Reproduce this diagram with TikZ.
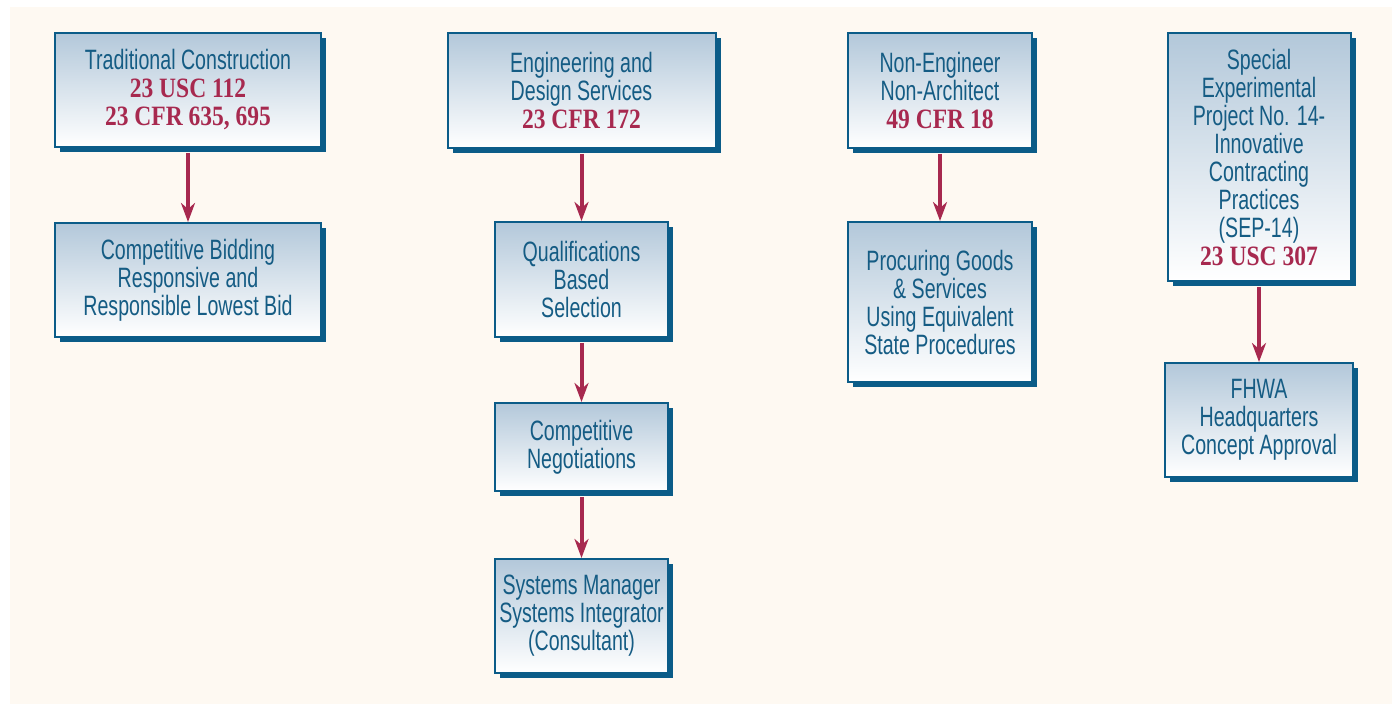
\documentclass[tikz,border=0pt]{standalone}
\usepackage{fontspec}
\setmainfont[FakeStretch=0.70]{Liberation Sans}
\newfontfamily\lawfont[FakeStretch=0.84]{Liberation Serif}
\usepackage{xcolor}
\usetikzlibrary{arrows.meta,shadows}

\definecolor{boxblue}{HTML}{0B5C88}
\definecolor{textblue}{HTML}{155C84}
\definecolor{lawred}{HTML}{A7294F}
\definecolor{boxtop}{HTML}{B3C8DA}
\definecolor{cream}{HTML}{FEF9F2}
\newcommand{\law}[1]{{\lawfont\bfseries\color{lawred}#1}}

\begin{document}
\begin{tikzpicture}[x=0.5pt,y=-0.5pt,
  box/.style={draw=boxblue, line width=1pt, top color=boxtop, bottom color=white,
    drop shadow={shadow xshift=2.6pt, shadow yshift=-2.6pt, fill=boxblue, opacity=1},
    align=center, inner sep=0pt, text=textblue, font=\fontsize{14}{14}\selectfont},
  arr/.style={draw=lawred, line width=2pt, shorten <=2.5pt,
    -{Stealth[length=9.5pt,width=7pt,inset=3pt]}}]
\useasboundingbox (0,0) rectangle (1395,704);
\fill[cream] (10,7) rectangle (1392,704);

% column 1
\node[box, minimum width=133pt, minimum height=57pt] (trad) at (188,90)
  {Traditional Construction\\ \law{23 USC 112}\\ \law{23 CFR 635, 695}};
\node[box, minimum width=133pt, minimum height=57pt] (bid) at (188,280)
  {Competitive Bidding\\ Responsive and\\ Responsible Lowest Bid};

% column 2
\node[box, minimum width=134pt, minimum height=57.5pt] (eng) at (581.5,90.5)
  {Engineering and\\ Design Services\\ \law{23 CFR 172}};
\node[box, minimum width=86.5pt, minimum height=57.5pt] (qbs) at (581.5,279.5)
  {Qualifications\\ Based\\ Selection};
\node[box, minimum width=86.5pt, minimum height=44pt] (neg) at (581.5,447)
  {Competitive\\ Negotiations};
\node[box, minimum width=86.5pt, minimum height=57pt] (sysm) at (581.5,616)
  {Systems Manager\\ Systems Integrator\\ (Consultant)};

% column 3
\node[box, minimum width=92pt, minimum height=57.5pt] (nena) at (940,90.5)
  {Non-Engineer\\ Non-Architect\\ \law{49 CFR 18}};
\node[box, minimum width=92pt, minimum height=80pt] (goods) at (940,302)
  {Procuring Goods\\ \& Services\\ Using Equivalent\\ State Procedures};

% column 4
\node[box, minimum width=91.5pt, minimum height=124pt] (sep) at (1259,157)
  {Special\\ Experimental\\ Project No. 14-\\ Innovative\\ Contracting\\ Practices\\ (SEP-14)\\ \law{23 USC 307}};
\node[box, minimum width=94pt, minimum height=57pt] (fhwa) at (1259,420)
  {FHWA\\ Headquarters\\ Concept Approval};

\draw[arr] (trad) -- (bid);
\draw[arr] (eng) -- (qbs);
\draw[arr] (qbs) -- (neg);
\draw[arr] (neg) -- (sysm);
\draw[arr] (nena) -- (goods);
\draw[arr] (sep) -- (fhwa);
\end{tikzpicture}
\end{document}
